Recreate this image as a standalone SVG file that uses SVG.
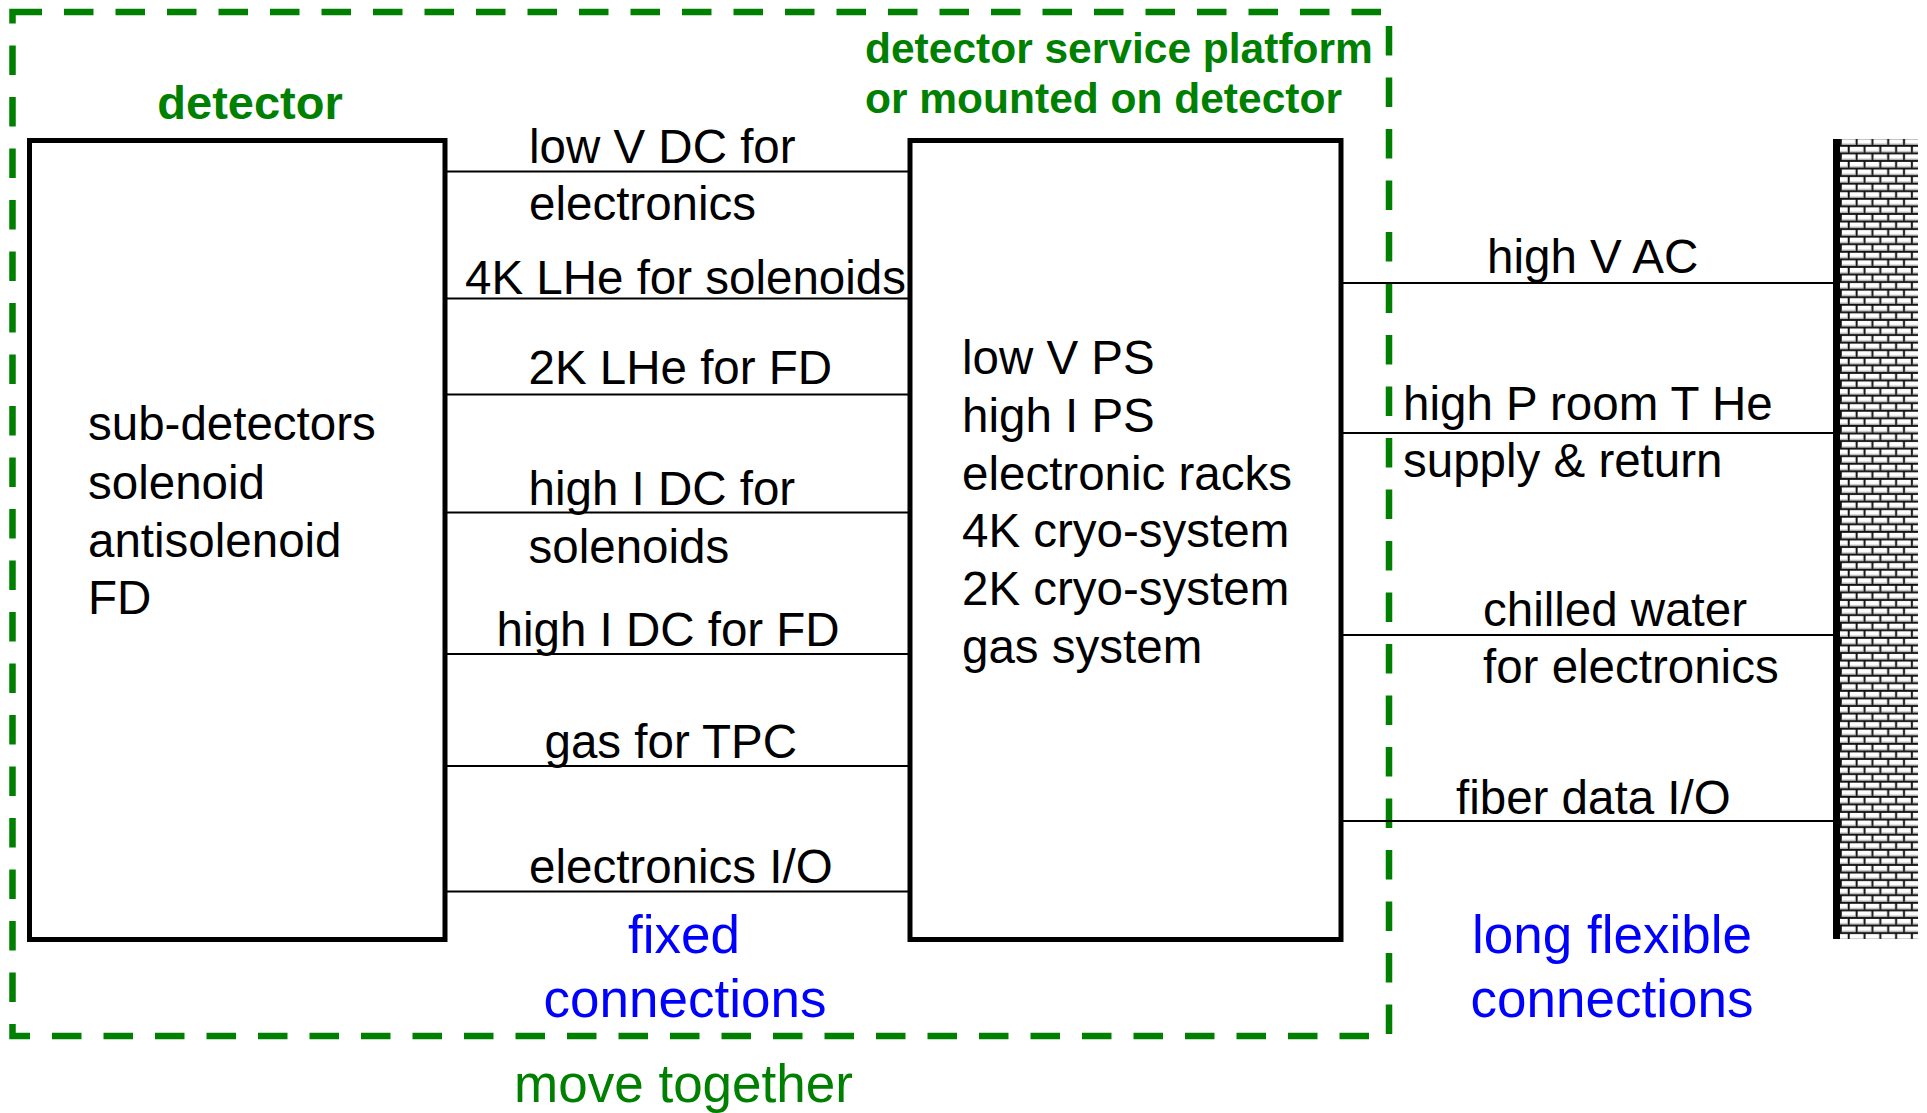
<svg xmlns="http://www.w3.org/2000/svg" width="1927" height="1113" viewBox="0 0 1927 1113">
<style>
.t{font-family:"Liberation Sans",Arial,sans-serif;font-size:47.5px;fill:#000}
.g{font-family:"Liberation Sans",Arial,sans-serif;fill:#008000}
.b{font-family:"Liberation Sans",Arial,sans-serif;font-size:53px;fill:#0000ff}
.box{fill:#fff;stroke:#000;stroke-width:5}
.c{stroke:#000;stroke-width:2;fill:none}
</style>
<defs>
<pattern id="brick" patternUnits="userSpaceOnUse" x="1840" y="137.4" width="31.6" height="15.14">
<rect width="31.6" height="15.14" fill="#111"/>
<rect x="1.8" y="1.8" width="13.8" height="5.77" fill="#fff"/>
<rect x="17.6" y="1.8" width="13.8" height="5.77" fill="#fff"/>
<rect x="1.8" y="6.2" width="13.8" height="1.37" fill="#aaa"/>
<rect x="17.6" y="6.2" width="13.8" height="1.37" fill="#aaa"/>
<rect x="-6.1" y="9.37" width="13.8" height="5.77" fill="#fff"/>
<rect x="9.7" y="9.37" width="13.8" height="5.77" fill="#fff"/>
<rect x="25.5" y="9.37" width="13.8" height="5.77" fill="#fff"/>
<rect x="-6.1" y="13.77" width="13.8" height="1.37" fill="#aaa"/>
<rect x="9.7" y="13.77" width="13.8" height="1.37" fill="#aaa"/>
<rect x="25.5" y="13.77" width="13.8" height="1.37" fill="#aaa"/>
</pattern>
</defs>
<rect width="1927" height="1113" fill="#fff"/>

<g id="move-together-frame">
<rect x="12.5" y="12" width="1376.5" height="1024" fill="none" stroke="#008000" stroke-width="6.5" stroke-dasharray="29.5 22"/>
<text class="g" x="683.5" y="1102" font-size="53" text-anchor="middle">move together</text>
</g>

<g id="connectors">
<line class="c" x1="447" y1="171.5" x2="908" y2="171.5"/>
<line class="c" x1="447" y1="298.5" x2="908" y2="298.5"/>
<line class="c" x1="447" y1="394.5" x2="908" y2="394.5"/>
<line class="c" x1="447" y1="512.5" x2="908" y2="512.5"/>
<line class="c" x1="447" y1="654" x2="908" y2="654"/>
<line class="c" x1="447" y1="766" x2="908" y2="766"/>
<line class="c" x1="447" y1="891.5" x2="908" y2="891.5"/>
<line class="c" x1="1343" y1="283" x2="1834" y2="283"/>
<line class="c" x1="1343" y1="433" x2="1834" y2="433"/>
<line class="c" x1="1343" y1="635" x2="1834" y2="635"/>
<line class="c" x1="1343" y1="821" x2="1834" y2="821"/>
<text class="t" x="529" y="163">low V DC for</text>
<text class="t" x="529" y="220">electronics</text>
<text class="t" x="465" y="294">4K LHe for solenoids</text>
<text class="t" x="528.5" y="384">2K LHe for FD</text>
<text class="t" x="528.5" y="505">high I DC for</text>
<text class="t" x="528.5" y="563">solenoids</text>
<text class="t" x="496.5" y="646">high I DC for FD</text>
<text class="t" x="544.5" y="758">gas for TPC</text>
<text class="t" x="529" y="883">electronics I/O</text>
<text class="t" x="1487" y="273">high V AC</text>
<text class="t" x="1403" y="420">high P room T He</text>
<text class="t" x="1403" y="477">supply &amp; return</text>
<text class="t" x="1483" y="626">chilled water</text>
<text class="t" x="1483" y="683">for electronics</text>
<text class="t" x="1456" y="814">fiber data I/O</text>
<text class="b" x="684" y="953" text-anchor="middle">fixed</text>
<text class="b" x="685" y="1017" text-anchor="middle">connections</text>
<text class="b" x="1612" y="953" text-anchor="middle">long flexible</text>
<text class="b" x="1612" y="1017" text-anchor="middle">connections</text>
</g>

<g id="detector">
<rect class="box" x="29.5" y="140.5" width="415.5" height="799"/>
<text class="g" x="250" y="119" font-size="47" font-weight="bold" text-anchor="middle">detector</text>
<text class="t" x="88" y="440">sub-detectors</text>
<text class="t" x="88" y="499">solenoid</text>
<text class="t" x="88" y="557">antisolenoid</text>
<text class="t" x="88" y="614">FD</text>
</g>

<g id="service-platform">
<rect class="box" x="910" y="140.5" width="431" height="799"/>
<text class="g" x="865" y="63" font-size="42.5" font-weight="bold">detector service platform</text>
<text class="g" x="865" y="113" font-size="42.5" font-weight="bold">or mounted on detector</text>
<text class="t" x="962" y="374">low V PS</text>
<text class="t" x="962" y="432">high I PS</text>
<text class="t" x="962" y="490">electronic racks</text>
<text class="t" x="962" y="547">4K cryo-system</text>
<text class="t" x="962" y="605">2K cryo-system</text>
<text class="t" x="962" y="663">gas system</text>
</g>

<g id="wall">
<rect x="1840" y="139" width="78" height="800" fill="url(#brick)"/>
<rect x="1833" y="139" width="7" height="800" fill="#000"/>
</g>
</svg>
